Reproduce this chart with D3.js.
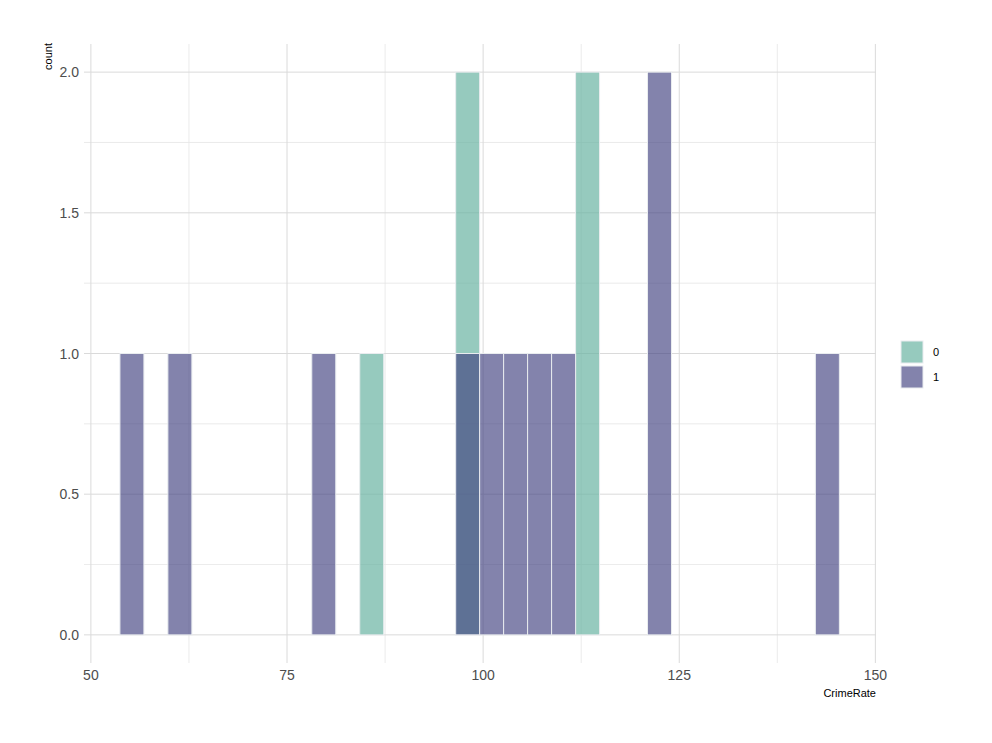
<!DOCTYPE html>
<html>
<head>
<meta charset="utf-8">
<script src="https://cdn.jsdelivr.net/npm/d3@7"></script>
<style>
  body { margin: 0; background: #fff; }
  svg text { font-family: "Liberation Sans Narrow", "Arial Narrow", "Liberation Sans", sans-serif; }
</style>
</head>
<body>
<div id="chart"></div>
<script>
// histogram bins (30 bins)
const binStart = 53.7;
const binWidth = 3.057;
const groups = ['0', '1'];
const counts0 = [0,0,0,0,0,0,0,0,0,0,1,0,0,0,2,0,0,0,0,2,0,0,0,0,0,0,0,0,0,0];
const counts1 = [1,0,1,0,0,0,0,0,1,0,0,0,0,0,1,1,1,1,1,0,0,0,2,0,0,0,0,0,0,1];
const xTicks = [50, 75, 100, 125, 150];
const xMinor = [62.5, 87.5, 112.5, 137.5];
const yTicks = [0, 0.5, 1, 1.5, 2];
const yMinor = [0.25, 0.75, 1.25, 1.75];
const colors = { '0': '#69b3a2', '1': '#404080' };
const alphas = { '0': 0.7, '1': 0.65 };

const width = 992, height = 743;
const panel = { left: 84, right: 876, top: 44, bottom: 663 };

const svg = d3.select('#chart').append('svg')
  .attr('width', width).attr('height', height);

const x = d3.scaleLinear().domain([49.12, 150.08]).range([panel.left, panel.right]);
const y = d3.scaleLinear().domain([-0.1, 2.1]).range([panel.bottom, panel.top]);

// grid
const grid = svg.append('g');
grid.selectAll('.xminor').data(xMinor).enter().append('line')
  .attr('x1', d => x(d)).attr('x2', d => x(d))
  .attr('y1', panel.top).attr('y2', panel.bottom)
  .attr('stroke', '#e6e6e6').attr('stroke-width', 0.8);
grid.selectAll('.yminor').data(yMinor).enter().append('line')
  .attr('y1', d => y(d)).attr('y2', d => y(d))
  .attr('x1', panel.left).attr('x2', panel.right)
  .attr('stroke', '#e6e6e6').attr('stroke-width', 0.8);
grid.selectAll('.xmajor').data(xTicks).enter().append('line')
  .attr('x1', d => x(d)).attr('x2', d => x(d))
  .attr('y1', panel.top).attr('y2', panel.bottom)
  .attr('stroke', '#dadada').attr('stroke-width', 1);
grid.selectAll('.ymajor').data(yTicks).enter().append('line')
  .attr('y1', d => y(d)).attr('y2', d => y(d))
  .attr('x1', panel.left).attr('x2', panel.right)
  .attr('stroke', '#dadada').attr('stroke-width', 1);

// bars
const series = [
  { key: '0', values: counts0 },
  { key: '1', values: counts1 }
];
series.forEach(s => {
  const bins = s.values.map((c, i) => ({ x0: binStart + i * binWidth, x1: binStart + (i + 1) * binWidth, c }))
    .filter(b => b.c > 0);
  svg.append('g').selectAll('rect').data(bins).enter().append('rect')
    .attr('x', d => x(d.x0))
    .attr('width', d => x(d.x1) - x(d.x0))
    .attr('y', d => y(d.c))
    .attr('height', d => y(0) - y(d.c))
    .attr('fill', colors[s.key])
    .attr('fill-opacity', alphas[s.key])
    .attr('stroke', '#e9ecef')
    .attr('stroke-width', 1);
});

// axes (no lines, only labels)
svg.append('g').selectAll('text').data(xTicks).enter().append('text')
  .attr('x', d => x(d)).attr('y', 680)
  .attr('text-anchor', 'middle')
  .attr('font-size', 14).attr('fill', '#4d4d4d')
  .text(d => d);
svg.append('g').selectAll('text').data(yTicks).enter().append('text')
  .attr('x', 79).attr('y', d => y(d))
  .attr('dy', '0.36em')
  .attr('text-anchor', 'end')
  .attr('font-size', 14).attr('fill', '#4d4d4d')
  .text(d => d3.format('.1f')(d));

// axis titles
svg.append('text')
  .attr('x', panel.right).attr('y', 697)
  .attr('text-anchor', 'end')
  .attr('font-size', 11).attr('fill', '#000')
  .text('CrimeRate');
svg.append('text')
  .attr('transform', `translate(52,${panel.top - 1}) rotate(-90)`)
  .attr('text-anchor', 'end')
  .attr('font-size', 11).attr('fill', '#000')
  .text('count');

// legend
const legend = svg.append('g').attr('transform', 'translate(901,341)');
groups.forEach((g, i) => {
  const item = legend.append('g').attr('transform', `translate(0,${i * 25})`);
  item.append('rect')
    .attr('width', 22).attr('height', 22)
    .attr('fill', colors[g]).attr('fill-opacity', alphas[g])
    .attr('stroke', '#e9ecef').attr('stroke-width', 1);
  item.append('text')
    .attr('x', 32).attr('y', 11).attr('dy', '0.36em')
    .attr('font-size', 11).attr('fill', '#000')
    .text(g);
});
</script>
</body>
</html>
